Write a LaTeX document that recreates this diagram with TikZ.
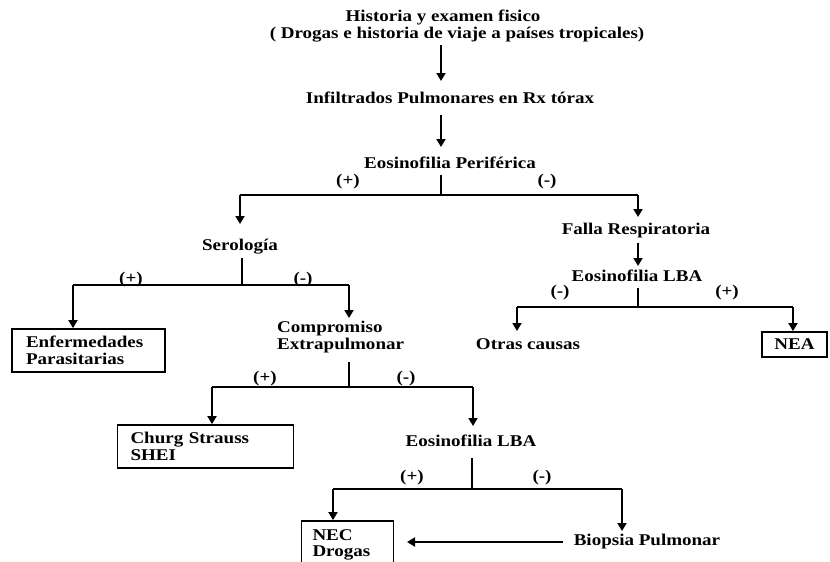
\documentclass[tikz,border=0pt]{standalone}
\usepackage{fontspec}
\setmainfont[FakeStretch=1.16]{Liberation Serif}
\usetikzlibrary{arrows.meta}
\begin{document}
\begin{tikzpicture}[x=1pt,y=-1pt,
  every node/.style={font=\bfseries\fontsize{16.4}{16.5}\selectfont, inner sep=0pt, text height=11pt, text depth=3.5pt},
  ln/.style={line width=1.8pt},
  arr/.style={ln, -{Triangle[length=8pt,width=9pt]}},
  boxed/.style={draw, line width=1.8pt, align=left, text height=, text depth=},
  lbl/.style={}]
\fill[white] (0,0) rectangle (830,562);
\useasboundingbox (0,0) rectangle (830,562);

% text nodes
\node (t1) at (443,18) {Historia y examen fisico};
\node (t2) at (457,35) {( Drogas e historia de viaje a países tropicales)};
\node (inf) at (450,100) {Infiltrados Pulmonares en Rx tórax};
\node (eos) at (450,165) {Eosinofilia Periférica};
\node (sero) at (240,247) {Serología};
\node (falla) at (636,231) {Falla Respiratoria};
\node (eos3) at (637,278) {Eosinofilia LBA};
\node (otras) at (528,346) {Otras causas};
\node[boxed, minimum width=65pt, minimum height=25pt, align=center] (nea) at (794.5,344.5) {NEA};
\node[boxed, minimum width=153pt, minimum height=43pt, text width=125pt, inner xsep=14pt] (enf) at (88.5,350.5) {Enfermedades\\Parasitarias};
\node[anchor=north west, align=left, text height=, text depth=] (comp) at (277,321) {Compromiso\\Extrapulmonar};
\node[boxed, minimum width=175pt, minimum height=43pt, text width=150pt, inner xsep=13pt] (churg) at (205.5,446.5) {Churg Strauss\\SHEI};
\node (eos2) at (471,443) {Eosinofilia LBA};
\node[boxed, minimum width=91pt, minimum height=48pt, text width=70pt, inner xsep=11pt] (nec) at (347.5,545) {NEC\\Drogas};
\node (biop) at (647,542) {Biopsia Pulmonar};

% labels
\node[lbl] (l1) at (348,182) {(+)};
\node[lbl] (l2) at (547,182) {(-)};
\node[lbl] (l3) at (131,280) {(+)};
\node[lbl] (l4) at (303,280) {(-)};
\node[lbl] (l5) at (265,379) {(+)};
\node[lbl] (l6) at (406,379) {(-)};
\node[lbl] (l7) at (412,478) {(+)};
\node[lbl] (l8) at (542,478) {(-)};
\node[lbl] (l9) at (560,293) {(-)};
\node[lbl] (l10) at (727,293) {(+)};

% junction coordinates
\coordinate (a1s) at (441,45);
\coordinate (a1e) at (441,81);
\coordinate (a2s) at (441,115);
\coordinate (a2e) at (441,147);
\coordinate (e0) at (441,175);
\coordinate (e1) at (441,195);
\coordinate (eL) at (240,195);
\coordinate (eR) at (638,195);
\coordinate (eLe) at (240,224);
\coordinate (eRe) at (638,217);
\coordinate (f0) at (638,243);
\coordinate (f1) at (638,266);
\coordinate (g0) at (638,288);
\coordinate (g1) at (638,307);
\coordinate (gL) at (517,307);
\coordinate (gR) at (793,307);
\coordinate (gLe) at (517,331);
\coordinate (s0) at (242,258);
\coordinate (s1) at (242,285);
\coordinate (sL) at (73,285);
\coordinate (sR) at (349,285);
\coordinate (sRe) at (349,318);
\coordinate (c0) at (349,362);
\coordinate (c1) at (349,387);
\coordinate (cL) at (212,387);
\coordinate (cR) at (473,387);
\coordinate (cRe) at (473,426);
\coordinate (d0) at (472,458);
\coordinate (d1) at (472,489);
\coordinate (dL) at (333,489);
\coordinate (dR) at (622,489);
\coordinate (dRe) at (622,531);
\coordinate (b0) at (563,542);
\coordinate (b1) at (407,542);

% connectors
\draw[arr] (a1s) -- (a1e);
\draw[arr] (a2s) -- (a2e);
\draw[ln] (e0) -- (e1);
\draw[ln] (eL) -- (eR);
\draw[arr] (eL) -- (eLe);
\draw[arr] (eR) -- (eRe);
\draw[arr] (f0) -- (f1);
\draw[ln] (g0) -- (g1);
\draw[ln] (gL) -- (gR);
\draw[arr] (gL) -- (gLe);
\draw[arr] (gR) -- (nea.north -| gR);
\draw[ln] (s0) -- (s1);
\draw[ln] (sL) -- (sR);
\draw[arr] (sL) -- (enf.north -| sL);
\draw[arr] (sR) -- (sRe);
\draw[ln] (c0) -- (c1);
\draw[ln] (cL) -- (cR);
\draw[arr] (cL) -- (churg.north -| cL);
\draw[arr] (cR) -- (cRe);
\draw[ln] (d0) -- (d1);
\draw[ln] (dL) -- (dR);
\draw[arr] (dL) -- (nec.north -| dL);
\draw[arr] (dR) -- (dRe);
\draw[arr] (b0) -- (b1);
\end{tikzpicture}
\end{document}
